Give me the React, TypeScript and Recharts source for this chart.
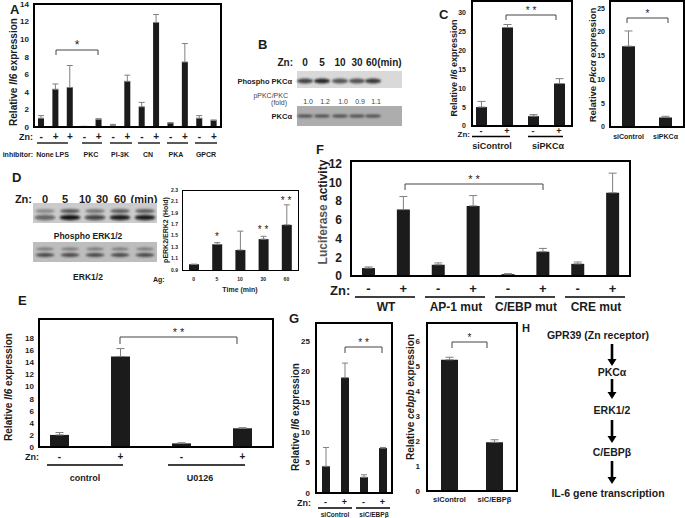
import { Bar, BarChart, ErrorBar, XAxis, YAxis } from "recharts";

const FONT = '"Liberation Sans", Arial, Helvetica, sans-serif';
const INK = "#1b1b1b";
const ERR = "#808080";

// A: Il6 with inhibitors
const aZn = ["-", "+", "+", "-", "+", "-", "+", "-", "+", "-", "+", "-", "+"];
const aMean = [1.0, 4.3, 4.5, 0.05, 0.85, 0.15, 5.2, 2.3, 11.9, 0.45, 7.4, 1.0, 0.75];
const aErr = [0.3, 0.6, 2.5, 0.03, 0.1, 0.15, 0.7, 0.5, 0.9, 0.05, 2.1, 0.3, 0.05];
const aTicks = [0, 2, 4, 6, 8, 10, 12, 14];
const aInhibitors = ["None", "LPS", "PKC", "PI-3K", "CN", "PKA", "GPCR"];

// B: blot header / fold values
const bTimes = ["0", "5", "10", "30", "60"];
const bFold = ["1.0", "1.2", "1.0", "0.9", "1.1"];

// C: siPKCa
const cZn = ["-", "+", "-", "+"];
const cIl6 = [5.0, 26.0, 2.6, 11.2];
const cIl6Err = [1.5, 0.8, 0.4, 1.3];
const cIl6Ticks = [0, 5, 10, 15, 20, 25, 30];
const cSi = ["siControl", "siPKCα"];
const cPkc = [17.0, 2.0];
const cPkcErr = [3.2, 0.25];
const cPkcTicks = [0, 5, 10, 15, 20, 25];

// D: pERK2/ERK2
const dTimes = ["0", "5", "10", "30", "60"];
const dRatio = [1.0, 1.35, 1.25, 1.44, 1.69];
const dRatioErr = [0, 0.03, 0.33, 0.05, 0.35];
const dTicks = [0.9, 1.1, 1.3, 1.5, 1.7, 1.9, 2.1, 2.3];

// E: U0126
const eZn = ["-", "+", "-", "+"];
const eIl6 = [2.0, 15.0, 0.6, 3.1];
const eIl6Err = [0.4, 1.3, 0.1, 0.1];
const eTicks = [0, 2, 4, 6, 8, 10, 12, 14, 16, 18];
const eGroups = ["control", "U0126"];

// F: luciferase
const fZn = ["-", "+", "-", "+", "-", "+", "-", "+"];
const fLuc = [0.85, 7.1, 1.2, 7.5, 0.2, 2.6, 1.3, 8.9];
const fLucErr = [0.12, 1.4, 0.2, 1.1, 0.05, 0.35, 0.2, 2.1];
const fTicks = [0, 2, 4, 6, 8, 10, 12];
const fGroups = ["WT", "AP-1 mut", "C/EBP mut", "CRE mut"];

// G: siC/EBPb
const gZn = ["-", "+", "-", "+"];
const gIl6 = [4.4, 19.0, 2.6, 7.4];
const gIl6Err = [3.1, 2.4, 0.4, 0.1];
const gIl6Ticks = [0, 5, 10, 15, 20, 25];
const gSi = ["siControl", "siC/EBPβ"];
const gCebpb = [5.25, 1.95];
const gCebpbErr = [0.1, 0.1];
const gCebpbTicks = [0, 1, 2, 3, 4, 5, 6];

// H: pathway
const hSteps = ["GPR39 (Zn receptor)", "PKCα", "ERK1/2", "C/EBPβ", "IL-6 gene transcription"];

type Box = { x: number; y: number; w: number; h: number };

function BarPanel(props: {
  box: Box;
  labels: string[];
  values: number[];
  errors: number[];
  domain: [number, number];
  ticks: number[];
  barSize: number;
  yFont: number;
  xFont: number;
  yMargin: number;
  xMargin: number;
  border?: number;
  cap?: number;
  padLeft?: number;
  fmt?: (v: number) => string;
}) {
  const { box, labels, values, errors, domain, ticks, barSize, yFont, xFont, yMargin, xMargin } = props;
  const border = props.border ?? 2;
  const data = labels.map((l, i) => ({ label: l, v: values[i], e: [0, errors[i]] }));
  const yw = 40;
  const xh = 26;
  const mt = 10;
  const tickStyle = { fill: INK, fontWeight: 700, fontFamily: FONT };
  return (
    <div style={{ position: "absolute", left: box.x - yw, top: box.y - mt }}>
      <BarChart
        width={box.w + yw}
        height={box.h + xh + mt}
        data={data}
        margin={{ top: mt, right: 0, bottom: 0, left: 0 }}
      >
        <XAxis
          dataKey="label"
          height={xh}
          interval={0}
          padding={{ left: props.padLeft ?? 0, right: 0 }}
          tickLine={false}
          axisLine={false}
          tickSize={0}
          tickMargin={xMargin}
          tick={{ ...tickStyle, fontSize: xFont }}
        />
        <YAxis
          width={yw}
          type="number"
          domain={domain}
          ticks={ticks}
          interval={0}
          allowDataOverflow
          tickLine={false}
          axisLine={false}
          tickSize={0}
          tickMargin={yMargin}
          tickFormatter={props.fmt}
          tick={{ ...tickStyle, fontSize: yFont }}
        />
        <Bar dataKey="v" fill={INK} barSize={barSize} isAnimationActive={false}>
          <ErrorBar dataKey="e" direction="y" width={props.cap ?? 4} stroke={ERR} strokeWidth={1} isAnimationActive={false} />
        </Bar>
      </BarChart>
      <div
        style={{
          position: "absolute",
          left: yw - border / 2,
          top: mt - border / 2,
          width: box.w + border,
          height: box.h + border,
          border: `${border}px solid #000`,
          boxSizing: "border-box",
          pointerEvents: "none",
        }}
      />
    </div>
  );
}

function T(props: any) {
  return <text fontFamily={FONT} fontWeight={700} fill={INK} dominantBaseline="central" {...props} />;
}

function VLabel({ x, y, size, children }: { x: number; y: number; size: number; children: any }) {
  return (
    <T x={x} y={y} fontSize={size} textAnchor="middle" transform={`rotate(-90 ${x} ${y})`}>
      {children}
    </T>
  );
}

function Bracket({ x1, x2, y, drop, stars, size = 10 }: { x1: number; x2: number; y: number; drop: number; stars: string; size?: number }) {
  return (
    <g>
      <path d={`M${x1},${y + drop}V${y}H${x2}V${y + drop}`} fill="none" stroke="#444" strokeWidth={1} />
      <T x={(x1 + x2) / 2} y={y - 5} fontSize={size} textAnchor="middle" fontWeight={400}>
        {stars}
      </T>
    </g>
  );
}

function Arrow({ x, y1, y2 }: { x: number; y1: number; y2: number }) {
  return (
    <g>
      <line x1={x} x2={x} y1={y1} y2={y2 - 6} stroke="#000" strokeWidth={2.6} />
      <path d={`M${x - 4.5},${y2 - 7}L${x + 4.5},${y2 - 7}L${x},${y2}Z`} fill="#000" />
    </g>
  );
}

export default function App() {
  const aBox = { x: 34, y: 4, w: 187, h: 123 };
  const cBox = { x: 472, y: 1, w: 100, h: 125 };
  const c2Box = { x: 610, y: 1, w: 74, h: 126 };
  const dBox = { x: 182, y: 190, w: 116, h: 80 };
  const eBox = { x: 39, y: 319, w: 234, h: 128 };
  const fBox = { x: 351, y: 161, w: 279, h: 115 };
  const gBox = { x: 316, y: 323, w: 76, h: 170 };
  const g2Box = { x: 427, y: 323, w: 90, h: 168 };

  const aInhX = [45, 62, 91, 120, 148, 176, 206];
  const aLines = [[37, 68], [82, 102], [110, 132], [138, 160], [167, 188], [195, 217]];
  const bLanes = [305, 322, 340, 357, 373];
  const bDark = [0.8, 0.95, 0.7, 0.72, 0.85];
  const dHead = [45, 65, 85, 102, 120];
  const dLanes = [45, 70, 95, 120, 145];
  const dDark = [0.55, 0.95, 0.7, 0.9, 0.9];
  const fPair = [386, 456, 526, 596];
  const hY = [335, 372, 410, 452, 493];

  return (
    <div style={{ position: "absolute", left: 0, top: 0, width: 685, height: 518, background: "#fff", overflow: "hidden" }}>
      <BarPanel box={aBox} labels={aZn} values={aMean} errors={aErr} domain={[0, 14]} ticks={aTicks} barSize={6} yFont={8} xFont={10} yMargin={5} xMargin={6} cap={3} />
      <BarPanel box={cBox} labels={cZn} values={cIl6} errors={cIl6Err} domain={[0, 33]} ticks={cIl6Ticks} barSize={11} yFont={7} xFont={9} yMargin={6} xMargin={2} padLeft={-4} />
      <BarPanel box={c2Box} labels={cSi} values={cPkc} errors={cPkcErr} domain={[0, 26.5]} ticks={cPkcTicks} barSize={13} yFont={7} xFont={7} yMargin={5} xMargin={7} />
      <BarPanel box={dBox} labels={dTimes} values={dRatio} errors={dRatioErr} domain={[0.9, 2.3]} ticks={dTicks} barSize={10} yFont={5} xFont={5} yMargin={4} xMargin={7} border={1} cap={3} fmt={(v) => v.toFixed(1)} />
      <BarPanel box={eBox} labels={eZn} values={eIl6} errors={eIl6Err} domain={[0, 21.2]} ticks={eTicks} barSize={19} yFont={8} xFont={10} yMargin={5} xMargin={6} padLeft={-10} />
      <BarPanel box={fBox} labels={fZn} values={fLuc} errors={fLucErr} domain={[0, 12.3]} ticks={fTicks} barSize={13} yFont={12} xFont={13} yMargin={9} xMargin={8} />
      <BarPanel box={gBox} labels={gZn} values={gIl6} errors={gIl6Err} domain={[0, 28]} ticks={gIl6Ticks} barSize={8} yFont={8} xFont={9} yMargin={6} xMargin={6} cap={3} />
      <BarPanel box={g2Box} labels={gSi} values={gCebpb} errors={gCebpbErr} domain={[0, 6.72]} ticks={gCebpbTicks} barSize={17} yFont={8} xFont={7.5} yMargin={7} xMargin={6} />

      <svg width={685} height={518} style={{ position: "absolute", left: 0, top: 0, pointerEvents: "none" }}>
        <defs>
          <filter id="soft" x="-20%" y="-50%" width="140%" height="200%">
            <feGaussianBlur stdDeviation="1" />
          </filter>
        </defs>

        {/* panel letters */}
        <T x={10} y={9} fontSize={13}>A</T>
        <T x={258} y={44} fontSize={13}>B</T>
        <T x={439} y={14} fontSize={13}>C</T>
        <T x={12} y={177} fontSize={13}>D</T>
        <T x={18} y={300} fontSize={13}>E</T>
        <T x={316} y={149} fontSize={13}>F</T>
        <T x={289} y={318} fontSize={13}>G</T>
        <T x={522} y={328} fontSize={11}>H</T>

        {/* A */}
        <VLabel x={13} y={72} size={10}>
          Relative <tspan fontStyle="italic">Il6</tspan> expression
        </VLabel>
        <T x={33} y={137} fontSize={9} textAnchor="end">Zn:</T>
        {aLines.map(([a, b], i) => (
          <line key={i} x1={a} x2={b} y1={143} y2={143} stroke="#000" strokeWidth={1.3} />
        ))}
        <T x={33} y={154} fontSize={7} textAnchor="end">inhibitor:</T>
        {aInhibitors.map((s, i) => (
          <T key={s} x={aInhX[i]} y={154} fontSize={7} textAnchor="middle">{s}</T>
        ))}
        <Bracket x1={56} x2={98} y={50} drop={5} stars="*" size={12} />

        {/* B */}
        <T x={293} y={62} fontSize={10} textAnchor="end">Zn:</T>
        {bTimes.map((t, i) =>
          i < 4 ? (
            <T key={t} x={bLanes[i]} y={62} fontSize={10} textAnchor="middle">{t}</T>
          ) : (
            <T key={t} x={bLanes[i] - 7} y={62} fontSize={10}>{t}(min)</T>
          )
        )}
        <rect x={297} y={71} width={105} height={17} fill="#d9d9d9" />
        {bLanes.map((x, i) => (
          <ellipse key={i} cx={x} cy={81} rx={8} ry={2.6} fill="#1f1f1f" opacity={bDark[i]} filter="url(#soft)" />
        ))}
        <T x={292} y={81} fontSize={7.5} textAnchor="end">Phospho PKCα</T>
        <T x={288} y={95} fontSize={7} fontWeight={400} fill="#444" textAnchor="end">pPKC/PKC</T>
        <T x={287} y={102} fontSize={7} fontWeight={400} fill="#444" textAnchor="end">(fold)</T>
        {bFold.map((f, i) => (
          <T key={i} x={bLanes[i] + 3} y={101} fontSize={7} fontWeight={400} fill="#444" textAnchor="middle">{f}</T>
        ))}
        <rect x={297} y={106} width={105} height={20} fill="#adadad" />
        {bLanes.map((x, i) => (
          <ellipse key={i} cx={x} cy={116} rx={8} ry={1.6} fill="#4a4a4a" filter="url(#soft)" />
        ))}
        <T x={292} y={116} fontSize={7.5} textAnchor="end">PKCα</T>

        {/* C */}
        <VLabel x={454} y={68} size={9}>
          Relative <tspan fontStyle="italic">Il6</tspan> expression
        </VLabel>
        <T x={470} y={134} fontSize={8} textAnchor="end">Zn:</T>
        <line x1={472} x2={510} y1={136.5} y2={136.5} stroke="#000" strokeWidth={1.3} />
        <line x1={528} x2={563} y1={136.5} y2={136.5} stroke="#000" strokeWidth={1.3} />
        <T x={492} y={146} fontSize={9} textAnchor="middle">{cSi[0]}</T>
        <T x={548} y={146} fontSize={9} textAnchor="middle">{cSi[1]}</T>
        <Bracket x1={506} x2={556} y={15} drop={5} stars="* *" />
        <VLabel x={592} y={65} size={9.5}>
          Relative <tspan fontStyle="italic">Pkcα</tspan> expression
        </VLabel>
        <Bracket x1={627} x2={668} y={18} drop={5} stars="*" />

        {/* D */}
        <T x={32} y={199} fontSize={11} textAnchor="end">Zn:</T>
        {dTimes.map((t, i) => (
          <T key={t} x={dHead[i]} y={199} fontSize={11} textAnchor="middle">{t}</T>
        ))}
        <T x={144} y={199} fontSize={11} textAnchor="middle">(min)</T>
        <rect x={33} y={203} width={124} height={20} fill="#cbcbcb" />
        {dLanes.map((x, i) => (
          <g key={i} filter="url(#soft)">
            <ellipse cx={x} cy={211} rx={10} ry={2} fill="#333" opacity={dDark[i] * 0.8} />
            <ellipse cx={x} cy={217.5} rx={10.5} ry={2.8} fill="#111" opacity={dDark[i]} />
          </g>
        ))}
        <T x={88} y={236} fontSize={8.5} textAnchor="middle">Phospho ERK1/2</T>
        <rect x={33} y={242} width={124} height={20} fill="#bdbdbd" />
        {dLanes.map((x, i) => (
          <g key={i} filter="url(#soft)">
            <ellipse cx={x} cy={249} rx={9} ry={1.4} fill="#555" opacity={0.7} />
            <ellipse cx={x} cy={255} rx={9.5} ry={1.9} fill="#333" opacity={0.85} />
          </g>
        ))}
        <T x={88} y={277} fontSize={8.5} textAnchor="middle">ERK1/2</T>
        <VLabel x={165} y={230} size={7}>pERK2/ERK2 (Hold)</VLabel>
        <T x={153} y={279} fontSize={7}>Ag:</T>
        <T x={240} y={289} fontSize={7} textAnchor="middle">Time (min)</T>
        <T x={217} y={236} fontSize={10} textAnchor="middle" fontWeight={400}>*</T>
        <T x={263} y={229} fontSize={10} textAnchor="middle" fontWeight={400}>* *</T>
        <T x={286} y={200} fontSize={10} textAnchor="middle" fontWeight={400}>* *</T>

        {/* E */}
        <VLabel x={8} y={387} size={10}>
          Relative <tspan fontStyle="italic">Il6</tspan> expression
        </VLabel>
        <T x={25} y={457} fontSize={9}>Zn:</T>
        <line x1={47} x2={123} y1={465} y2={465} stroke="#000" strokeWidth={1.3} />
        <line x1={168} x2={245} y1={465} y2={465} stroke="#000" strokeWidth={1.3} />
        <T x={85} y={478} fontSize={9} textAnchor="middle">{eGroups[0]}</T>
        <T x={200} y={478} fontSize={9} textAnchor="middle">{eGroups[1]}</T>
        <Bracket x1={120} x2={237} y={337} drop={7} stars="* *" size={11} />

        {/* F */}
        <T x={323} y={212} fontSize={12} textAnchor="middle" transform="rotate(-90 323 212)">
          <tspan fill="#555">Luciferase</tspan> activity
        </T>
        <T x={330} y={290} fontSize={13}>Zn:</T>
        {fPair.map((c, i) => (
          <line key={i} x1={c - 31} x2={c + 29} y1={297} y2={297} stroke="#000" strokeWidth={1.4} />
        ))}
        {fGroups.map((g, i) => (
          <T key={g} x={fPair[i]} y={307} fontSize={12} textAnchor="middle">{g}</T>
        ))}
        <Bracket x1={405} x2={543} y={184} drop={6} stars="* *" size={11} />

        {/* G */}
        <VLabel x={295} y={417} size={10}>
          Relative <tspan fontStyle="italic">Il6</tspan> expression
        </VLabel>
        <T x={297} y={503} fontSize={9}>Zn:</T>
        <line x1={318} x2={352} y1={508} y2={508} stroke="#000" strokeWidth={1.3} />
        <line x1={356} x2={390} y1={508} y2={508} stroke="#000" strokeWidth={1.3} />
        <T x={335} y={514} fontSize={6.5} textAnchor="middle">{gSi[0]}</T>
        <T x={374} y={514} fontSize={6.5} textAnchor="middle">{gSi[1]}</T>
        <Bracket x1={345} x2={382} y={347} drop={6} stars="* *" />
        <VLabel x={410} y={397} size={10}>
          Relative <tspan fontStyle="italic">cebpb</tspan> expression
        </VLabel>
        <Bracket x1={452} x2={487} y={342} drop={6} stars="*" />

        {/* H */}
        {hSteps.map((s, i) => (
          <T key={s} x={i === 0 ? 598 : i === 4 ? 608 : 612} y={hY[i]} fontSize={10.5} textAnchor="middle">{s}</T>
        ))}
        <Arrow x={612} y1={344} y2={366} />
        <Arrow x={612} y1={379} y2={399} />
        <Arrow x={612} y1={420} y2={443} />
        <Arrow x={612} y1={461} y2={484} />
      </svg>
    </div>
  );
}
